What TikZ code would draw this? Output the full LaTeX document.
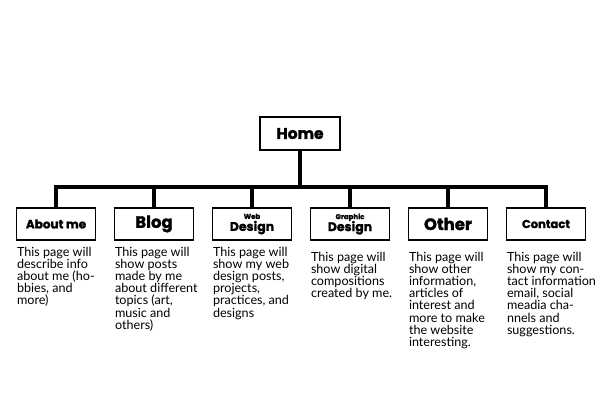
\documentclass[tikz,border=0pt]{standalone}
\usepackage{fontspec}
\setmainfont{Lato}
\newfontfamily\headfont{Poppins}[UprightFont={* Bold}, UprightFeatures={FakeBold=1.6}]
\usetikzlibrary{positioning}

\tikzset{
  page/.style={draw, line width=1.4pt, minimum width=79pt, minimum height=32pt,
    inner sep=0pt, font=\headfont},
  info/.style={anchor=north west, inner sep=0pt, align=left,
    font=\fontsize{12.6}{12.2}\selectfont},
  conn/.style={line width=4pt, line join=miter}
}

\begin{document}
\begin{tikzpicture}[x=1pt, y=-1pt]
  \useasboundingbox (0,0) rectangle (600,400);
  % top level
  \node[page, minimum width=80pt, minimum height=33pt, font=\headfont\fontsize{15.5}{15.5}\selectfont] (home) at (300,133.5) {Home};
  % pages
  \node[page, font=\headfont\fontsize{12}{12}\selectfont] (about) at (56,224) {About me};
  \node[page, font=\headfont\fontsize{16.5}{16.5}\selectfont] (blog) at (154,224) {Blog};
  \node[page, align=center] (web) at (252,224) {{\fontsize{7}{7}\selectfont Web}\\[0pt]{\fontsize{12.5}{12.5}\selectfont Design}};
  \node[page, align=center] (graphic) at (350,224) {{\fontsize{7}{7}\selectfont Graphic}\\[0pt]{\fontsize{12.5}{12.5}\selectfont Design}};
  \node[page, font=\headfont\fontsize{16.5}{16.5}\selectfont] (other) at (448,224) {Other};
  \node[page, font=\headfont\fontsize{11.5}{11.5}\selectfont] (contact) at (546,224) {Contact};

  % connectors
  \coordinate (bar) at (300,187);
  \draw[conn] (home.south) -- (bar);
  \draw[conn] (about.north) |- (bar) -| (contact.north);
  \foreach \n in {blog,web,graphic,other}
    \draw[conn] (\n.north) -- (\n.north |- bar);

  % descriptions
  \node[info] (aboutinfo) at ([xshift=1pt, yshift=-6pt]about.south west)
    {This page will\\describe info\\about me (ho-\\bbies, and\\more)};
  \node[info] (bloginfo) at ([xshift=1pt, yshift=-6pt]blog.south west)
    {This page will\\show posts\\made by me\\about different\\topics (art,\\music and\\others)};
  \node[info] (webinfo) at ([xshift=1pt, yshift=-6pt]web.south west)
    {This page will\\show my web\\design posts,\\projects,\\practices, and\\designs};
  \node[info] (graphicinfo) at ([xshift=1pt, yshift=-11pt]graphic.south west)
    {This page will\\show digital\\compositions\\created by me.};
  \node[info] (otherinfo) at ([xshift=1pt, yshift=-11pt]other.south west)
    {This page will\\show other\\information,\\articles of\\interest and\\more to make\\the website\\interesting.};
  \node[info] (contactinfo) at ([xshift=1pt, yshift=-11pt]contact.south west)
    {This page will\\show my con-\\tact information\\email, social\\meadia cha-\\nnels and\\suggestions.};
\end{tikzpicture}
\end{document}
